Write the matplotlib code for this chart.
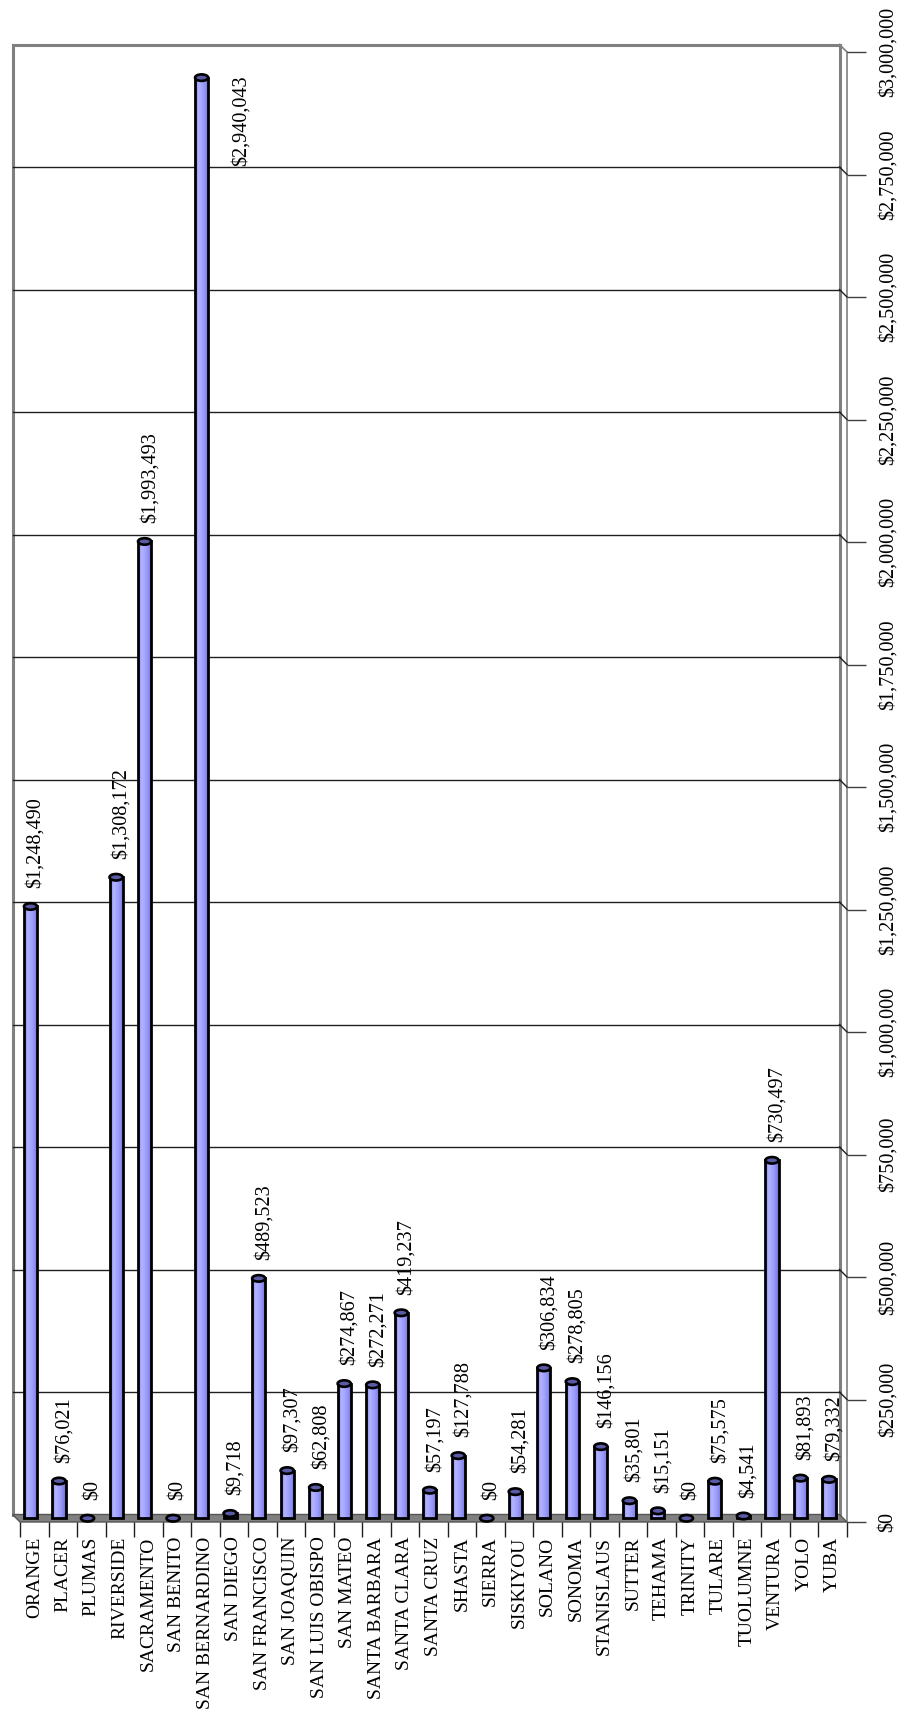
import matplotlib
matplotlib.use("Agg")
import matplotlib.pyplot as plt
import numpy as np
from matplotlib.patches import Ellipse, Polygon
from matplotlib.colors import LinearSegmentedColormap
from matplotlib.ticker import FuncFormatter

counties = ["ORANGE", "PLACER", "PLUMAS", "RIVERSIDE", "SACRAMENTO", "SAN BENITO",
            "SAN BERNARDINO", "SAN DIEGO", "SAN FRANCISCO", "SAN JOAQUIN",
            "SAN LUIS OBISPO", "SAN MATEO", "SANTA BARBARA", "SANTA CLARA",
            "SANTA CRUZ", "SHASTA", "SIERRA", "SISKIYOU", "SOLANO", "SONOMA",
            "STANISLAUS", "SUTTER", "TEHAMA", "TRINITY", "TULARE", "TUOLUMNE",
            "VENTURA", "YOLO", "YUBA"]
amounts = [1248490, 76021, 0, 1308172, 1993493, 0, 2940043, 9718, 489523, 97307,
           62808, 274867, 272271, 419237, 57197, 127788, 0, 54281, 306834, 278805,
           146156, 35801, 15151, 0, 75575, 4541, 730497, 81893, 79332]
y_ticks = list(range(0, 3_000_001, 250_000))

plt.rcParams["font.family"] = ["Liberation Serif", "DejaVu Serif"]
FS = 14.6
FS_CAT = 14

W, H = 908, 1716
fig = plt.figure(figsize=(W / 100, H / 100), dpi=100)
L, R, T, B = 20, 847, 52, 1522
ax = fig.add_axes([L / W, 1 - B / H, (R - L) / W, (B - T) / H])
n = len(counties)
ymax = y_ticks[-1]
ax.set_xlim(-0.5, n - 0.5)
ax.set_ylim(0, ymax)
for s in ax.spines.values():
    s.set_visible(False)

px_x = (R - L) / n
px_y = (B - T) / ymax
depth = 7.5
DX = depth / px_x
DY = depth / px_y
gray = "#808080"

xl, xr = -0.5, n - 0.5
# back wall and side edges
ax.plot([xl - DX, xl - DX], [DY, ymax + DY], color=gray, lw=2.2, clip_on=False, zorder=1)
ax.plot([xl - DX, xr - DX], [ymax + DY, ymax + DY], color=gray, lw=2.2, clip_on=False, zorder=1)
ax.plot([xr - DX, xr - DX], [DY, ymax + DY], color=gray, lw=2.2, clip_on=False, zorder=1)
ax.plot([xr - DX, xr], [ymax + DY, ymax], color=gray, lw=1.2, clip_on=False, zorder=1)
ax.plot([xr, xr], [0, ymax], color=gray, lw=1.2, clip_on=False, zorder=1)
for yv in y_ticks[1:-1]:
    ax.plot([xl - DX, xr - DX], [yv + DY, yv + DY], color="#202020", lw=1.0,
            clip_on=False, zorder=1)
    ax.plot([xr - DX, xr], [yv + DY, yv], color="#202020", lw=1.0,
            clip_on=False, zorder=1)
# floor
floor = Polygon([(xl, 0), (xr, 0), (xr - DX, DY), (xl - DX, DY)], closed=True,
                facecolor=gray, edgecolor="#555555", lw=1.0, clip_on=False, zorder=1.5)
ax.add_patch(floor)

# cylinders
bw = 0.46
bar_x = np.arange(n) - DX / 2
bars = ax.bar(bar_x, amounts, width=bw, bottom=DY / 2, color="#9999ff",
              edgecolor="none", zorder=3)
cmap = LinearSegmentedColormap.from_list(
    "cyl", ["#7d7de0", "#b4b4ff", "#a4a4ff", "#9090f4", "#6a6ad0"])
grad = np.linspace(0, 1, 64).reshape(1, -1)
for rect in bars:
    if rect.get_height() <= 0:
        continue
    x0, w = rect.get_x(), rect.get_width()
    y0, h = rect.get_y(), rect.get_height()
    im = ax.imshow(grad, extent=(x0, x0 + w, y0, y0 + h), aspect="auto",
                   cmap=cmap, zorder=3.5, interpolation="bilinear")
    im.set_clip_path(rect)
ax.bar(bar_x, amounts, width=bw, bottom=DY / 2, fill=False, edgecolor="black",
       lw=2.0, zorder=4)
cap_h = 6.5 / px_y
for xb, v in zip(bar_x, amounts):
    ax.add_patch(Ellipse((xb, v + DY / 2), bw, cap_h, facecolor="#5a5aa6",
                         edgecolor="black", lw=1.9, zorder=5, clip_on=False))
ax.set_xlim(-0.5, n - 0.5)
ax.set_ylim(0, ymax)

# value labels
labels = []
gap = 22 / px_y
for i, v in enumerate(amounts):
    t = ax.text(i + 0.05, v + gap, f"${v:,.0f}", rotation=90, ha="center",
                va="bottom", fontsize=FS, zorder=6, clip_on=False)
    labels.append((i, v, t))
fig.canvas.draw()
rend = fig.canvas.get_renderer()
top_px = ax.transData.transform((0, ymax + DY))[1]
for i, v, t in labels:
    bb = t.get_window_extent(rend)
    if bb.y1 > top_px:
        t.set_position((i + 1.25, v + DY / 2 + 2 / px_y))
        t.set_va("top")

# axes ticks
ax.yaxis.tick_right()
ax.set_yticks(y_ticks)
ax.yaxis.set_major_formatter(FuncFormatter(lambda v, p: f"${v:,.0f}"))
ax.tick_params(axis="y", length=14, width=1.0, color="#404040", pad=8.5,
               labelsize=FS, labelrotation=90)
for lab in ax.get_yticklabels():
    lab.set_va("center")

ax.set_xticks(range(n))
ax.set_xticklabels(counties)
ax.set_xticks(np.arange(-0.5, n, 1.0), minor=True)
ax.tick_params(axis="x", which="major", length=0, pad=10.5, labelsize=FS_CAT,
               labelrotation=90)
ax.tick_params(axis="x", which="minor", length=11, width=1.0, color="#202020")

fig.savefig("out.png", dpi=100)
